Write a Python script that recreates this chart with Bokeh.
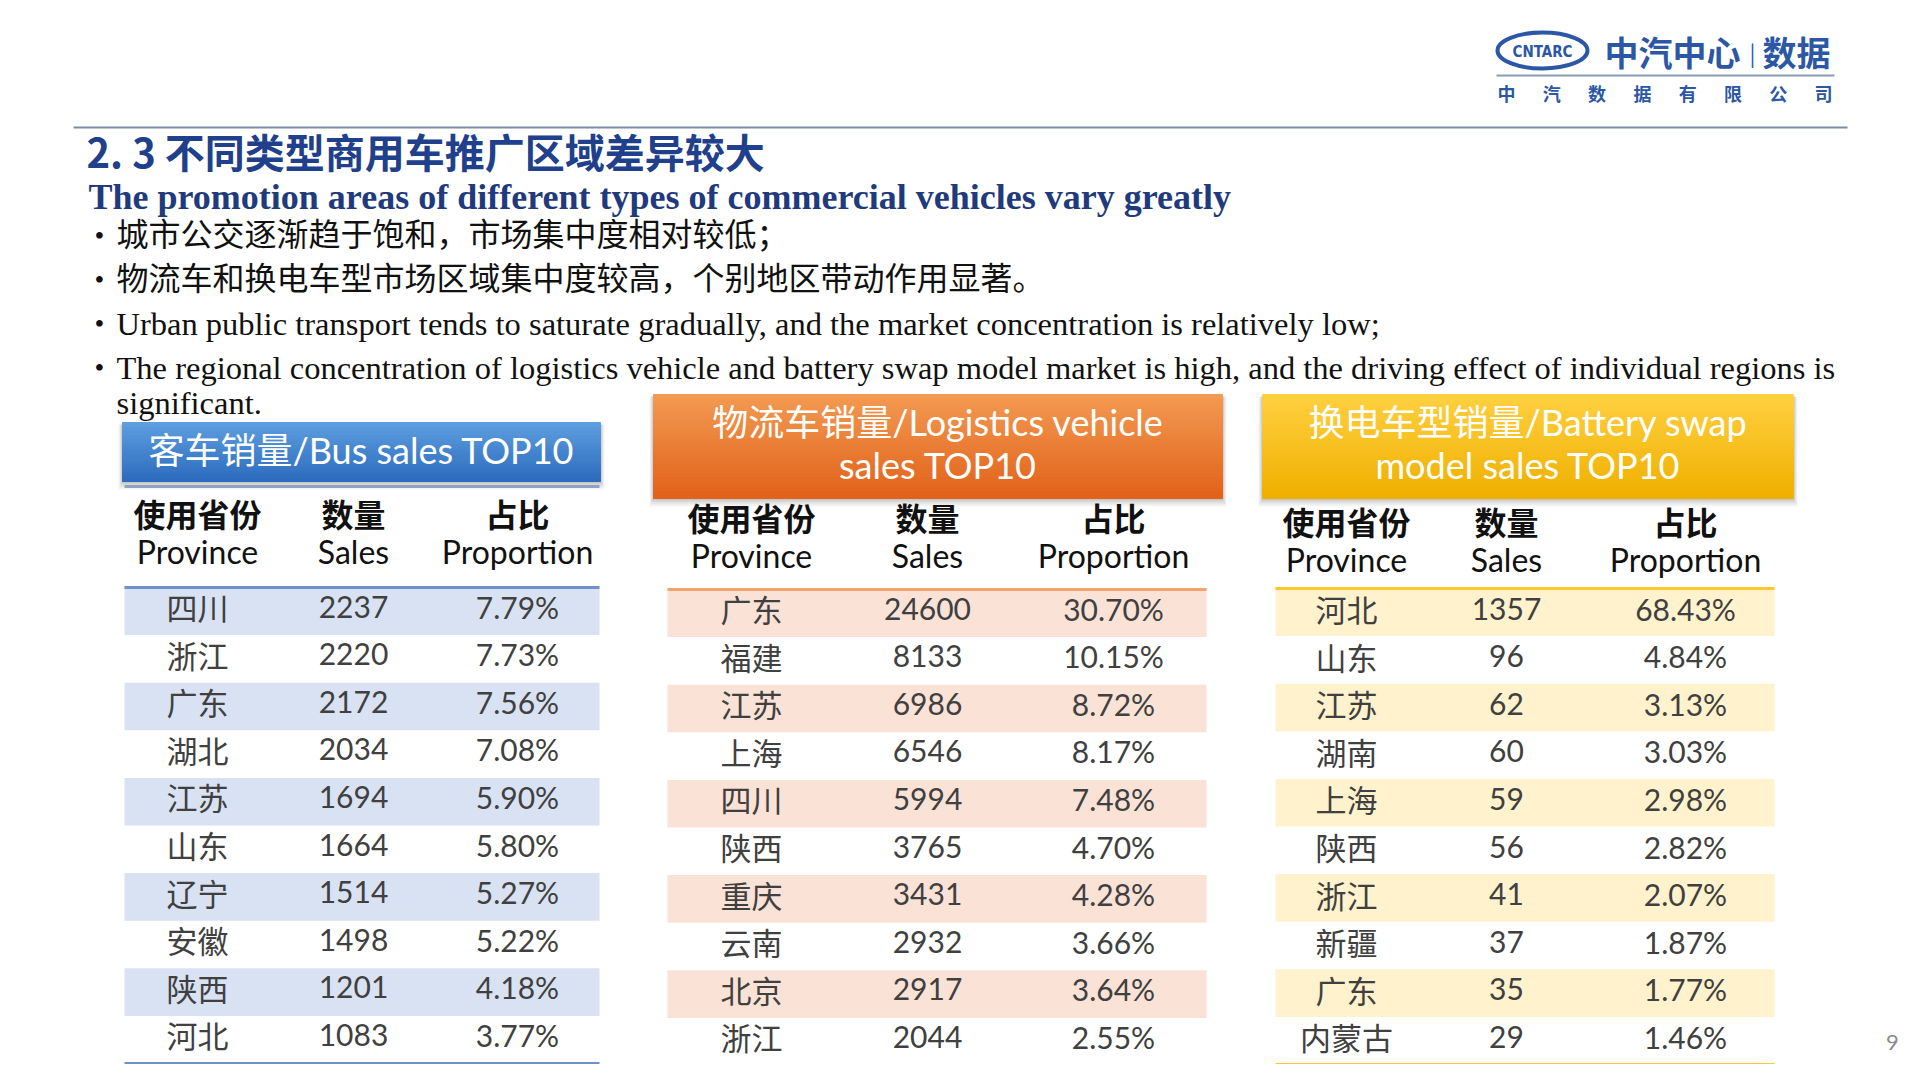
import numpy as np
from bokeh.plotting import figure
from bokeh.models import Range1d, ColumnDataSource
from bokeh.core.properties import value
from bokeh.embed import file_html
from bokeh.resources import INLINE

# ---------------- data ----------------
bus_provinces = ["四川", "浙江", "广东", "湖北", "江苏", "山东", "辽宁", "安徽", "陕西", "河北"]
bus_sales = [2237, 2220, 2172, 2034, 1694, 1664, 1514, 1498, 1201, 1083]
bus_share = [7.79, 7.73, 7.56, 7.08, 5.90, 5.80, 5.27, 5.22, 4.18, 3.77]

log_provinces = ["广东", "福建", "江苏", "上海", "四川", "陕西", "重庆", "云南", "北京", "浙江"]
log_sales = [24600, 8133, 6986, 6546, 5994, 3765, 3431, 2932, 2917, 2044]
log_share = [30.70, 10.15, 8.72, 8.17, 7.48, 4.70, 4.28, 3.66, 3.64, 2.55]

bat_provinces = ["河北", "山东", "江苏", "湖南", "上海", "陕西", "浙江", "新疆", "广东", "内蒙古"]
bat_sales = [1357, 96, 62, 60, 59, 56, 41, 37, 35, 29]
bat_share = [68.43, 4.84, 3.13, 3.03, 2.98, 2.82, 2.07, 1.87, 1.77, 1.46]

col_head_cn = ["使用省份", "数量", "占比"]
col_head_en = ["Province", "Sales", "Proportion"]

title_cn = "2. 3 不同类型商用车推广区域差异较大"
title_en = "The promotion areas of different types of commercial vehicles vary greatly"
bullets_cn = ["城市公交逐渐趋于饱和，市场集中度相对较低；",
              "物流车和换电车型市场区域集中度较高，个别地区带动作用显著。"]
bullets_en = ["Urban public transport tends to saturate gradually, and the market concentration is relatively low;",
              "The regional concentration of logistics vehicle and battery swap model market is high, and the driving effect of individual regions is"]
bullet_en_cont = "significant."

# ---------------- figure ----------------
W, H = 1904, 1064
p = figure(width=W, height=H, x_range=Range1d(0, W), y_range=Range1d(H, 0),
           output_backend="svg", toolbar_location=None, min_border=0)
p.axis.visible = False
p.grid.visible = False
p.outline_line_color = None
p.background_fill_color = "white"
p.border_fill_color = "white"

CJK = "Noto Sans CJK SC"
LAT = "Lato, Noto Sans CJK SC"
SERIF = "Liberation Serif"


def txt(x, y, s, size, color="#111111", font=CJK, style="normal", align="left", baseline="middle"):
    src = ColumnDataSource(dict(x=x if isinstance(x, list) else [x],
                                y=y if isinstance(y, list) else [y],
                                t=s if isinstance(s, list) else [s]))
    p.text(x="x", y="y", text="t", source=src, text_font=value(font),
           text_font_size=value(f"{size}px"), text_font_style=style,
           text_color=color, text_align=align, text_baseline=baseline)


def hexrgb(h):
    h = h.lstrip("#")
    return [int(h[i:i + 2], 16) for i in (0, 2, 4)]


def grad_rect(x0, x1, y0, y1, c_top, c_bot, n=30):
    ys = np.linspace(y0, y1, n + 1)
    a, b = np.array(hexrgb(c_top)), np.array(hexrgb(c_bot))
    cols = []
    for i in range(n):
        t = i / (n - 1)
        c = (a + (b - a) * t).round().astype(int)
        cols.append("#%02x%02x%02x" % tuple(c))
    src = ColumnDataSource(dict(top=ys[:-1], bottom=ys[1:], c=cols))
    p.quad(left=x0, right=x1, top="top", bottom="bottom", fill_color="c", line_color="c",
           line_width=1, source=src)


def shadow(x0, x1, y0, y1):
    for k, a in [(8, 0.05), (6, 0.07), (4, 0.09), (2, 0.12)]:
        p.quad(left=x0 - k / 2, right=x1 + k / 2, top=y0 + 2, bottom=y1 + k,
               fill_color="#404040", fill_alpha=a, line_color=None)


# ---------------- logo ----------------
logo_blue = "#2b57a5"
p.ellipse(x=[1542], y=[50], width=[90], height=[36], fill_color=None,
          line_color=logo_blue, line_width=4)
txt(1542, 51, "CNTARC", 15, logo_blue, "DejaVu Sans Condensed", "bold", "center")
txt(1604, 51, "中汽中心", 34, logo_blue, CJK, "bold")
txt(1752, 51, "|", 22, logo_blue, CJK, "normal", "center")
txt(1762, 51, "数据", 34, logo_blue, CJK, "bold")
p.segment(x0=[1496], x1=[1834], y0=[75], y1=[75], line_color="#8a9bb5", line_width=2)
logo_sub = list("中汽数据有限公司")
txt([1506 + i * 45.3 for i in range(8)], [92] * 8, logo_sub, 18, logo_blue, CJK, "bold", "center")

# ---------------- top rule & titles ----------------
p.segment(x0=[73], x1=[1847], y0=[127], y1=[127], line_color="#7d8ca5", line_width=2)
txt(86, 150, title_cn, 40, "#20408c", CJK, "bold")
txt(88, 196, title_en, 36, "#1f3a7d", SERIF, "bold")

bul_y_cn = [231, 275]
bul_y_en = [323, 367]
txt([94] * 2, [235, 279], ["•"] * 2, 28, "#111111", SERIF)
txt([116] * 2, bul_y_cn, bullets_cn, 32, "#111111", CJK)
txt([94] * 2, bul_y_en, ["•"] * 2, 28, "#111111", SERIF)
txt([116] * 2, bul_y_en, bullets_en, 32.5, "#111111", SERIF)
txt(116, 402, bullet_en_cont, 32.5, "#111111", SERIF)

# ---------------- tables ----------------
tables = [
    dict(prov=bus_provinces, sales=bus_sales, share=bus_share,
         title=["客车销量/Bus sales TOP10"], title_y=[449],
         box=(122, 600, 422, 481), grad=("#5e9ee0", "#2d6cbd"),
         x0=124, x1=599, cols=[197, 353, 517], head_y=(512, 551),
         line_y=587, row0=606, band="#d9e2f3", rule="#6f8fcf"),
    dict(prov=log_provinces, sales=log_sales, share=log_share,
         title=["物流车销量/Logistics vehicle", "sales TOP10"], title_y=[421, 464],
         box=(653, 1222, 394, 498), grad=("#f39a52", "#e2621a"),
         x0=667, x1=1206, cols=[751, 927, 1113], head_y=(516, 555),
         line_y=589, row0=608, band="#fbe2d6", rule="#f2a36b"),
    dict(prov=bat_provinces, sales=bat_sales, share=bat_share,
         title=["换电车型销量/Battery swap", "model sales TOP10"], title_y=[421, 464],
         box=(1262, 1793, 394, 498), grad=("#ffd040", "#efb000"),
         x0=1275, x1=1774, cols=[1346, 1506, 1685], head_y=(520, 559),
         line_y=588, row0=608, band="#fff2cc", rule="#ffc72c"),
]

ROW_H = 47.6
for tb in tables:
    bx0, bx1, by0, by1 = tb["box"]
    shadow(bx0, bx1, by0, by1)
    grad_rect(bx0, bx1, by0, by1, *tb["grad"])
    txt([(bx0 + bx1) / 2] * len(tb["title"]), tb["title_y"], tb["title"], 36,
        "#ffffff", LAT, "normal", "center")

    # column headings
    txt(tb["cols"], [tb["head_y"][0]] * 3, col_head_cn, 32, "#111111", CJK, "bold", "center")
    txt(tb["cols"], [tb["head_y"][1]] * 3, col_head_en, 32, "#111111", LAT, "normal", "center")

    n = len(tb["prov"])
    idx = np.arange(n)
    tops = tb["line_y"] + idx * ROW_H
    shaded = idx % 2 == 0
    p.quad(left=tb["x0"], right=tb["x1"], top=tops[shaded], bottom=tops[shaded] + ROW_H,
           fill_color=tb["band"], line_color=None)
    p.segment(x0=[tb["x0"]] * 2, x1=[tb["x1"]] * 2,
              y0=[tb["line_y"], tb["line_y"] + n * ROW_H],
              y1=[tb["line_y"], tb["line_y"] + n * ROW_H],
              line_color=tb["rule"], line_width=3)

    ys = list(tb["row0"] + idx * ROW_H)
    txt([tb["cols"][0]] * n, ys, tb["prov"], 31, "#404040", CJK, "normal", "center")
    txt([tb["cols"][1]] * n, ys, [str(v) for v in tb["sales"]], 30, "#404040", LAT, "normal", "center")
    txt([tb["cols"][2]] * n, ys, [f"{v:.2f}%" for v in tb["share"]], 30, "#404040", LAT, "normal", "center")

# thin rule under the bus title box
p.segment(x0=[124], x1=[599], y0=[486], y1=[486], line_color="#8ea2c2", line_width=3)

# page number
txt(1892, 1042, "9", 22, "#8c8c8c", LAT, "normal", "center")

open("out.html", "w").write(file_html(p, INLINE))
